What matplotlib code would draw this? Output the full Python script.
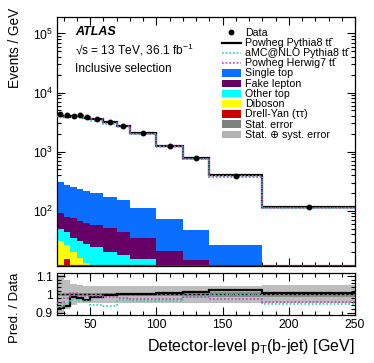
import numpy as np
import matplotlib
matplotlib.use('Agg')
import matplotlib.pyplot as plt
from matplotlib.ticker import MultipleLocator, FixedLocator, FixedFormatter, LogLocator, NullFormatter
from matplotlib.patches import Rectangle
from matplotlib.lines import Line2D

plt.rcParams['font.family'] = ['Liberation Sans', 'DejaVu Sans']
plt.rcParams['mathtext.fontset'] = 'custom'
plt.rcParams['mathtext.rm'] = 'Liberation Sans'
plt.rcParams['mathtext.it'] = 'Liberation Sans:italic'
plt.rcParams['mathtext.bf'] = 'Liberation Sans:bold'

# ---------------- data ----------------
bin_edges = [25, 30, 35, 40, 45, 50, 60, 70, 80, 100, 120, 140, 180, 250]
data = [4280, 4110, 4050, 4110, 3850, 3560, 3130, 2740, 2040, 1260, 771, 386, 116]

ratio_pythia8 = [0.924, 0.936, 0.985, 0.978, 0.969, 0.987, 0.998, 1.004, 1.002, 1.005, 1.011, 1.024, 1.005]
ratio_amcnlo = [0.930, 0.950, 0.970, 0.962, 0.962, 0.940, 0.938, 0.968, 0.964, 0.965, 0.986, 0.998, 0.946]
ratio_herwig7 = [0.955, 0.978, 1.005, 0.990, 0.990, 0.990, 0.985, 0.978, 0.973, 0.973, 0.984, 0.976, 0.960]

drell_yan = [8, 15, 6, 5, 4, 3, 3, 2, 2, 1.5, 1, 1, 0.5]
diboson = [23, 11.3, 14.2, 10.7, 8.9, 7.5, 6, 6, 5, 3.5, 3, 2, 1.5]
other_top = [17.4, 17.9, 13.9, 15, 14.4, 14.1, 11.2, 9.8, 8.1, 5, 4, 3, 2]
fake_lepton = [44.1, 34.8, 39.9, 37.1, 35.4, 32.7, 30.2, 26.4, 19, 10.8, 6.7, 3, 1]
single_top = [217.5, 193, 181, 165.2, 155.3, 144.7, 122.6, 107.8, 77.9, 50.7, 32.3, 17.3, 4]

stat_err = [0.008, 0.008, 0.007, 0.007, 0.007, 0.006, 0.006, 0.007, 0.007, 0.008, 0.010, 0.012, 0.015]
total_err = [0.105, 0.078, 0.058, 0.050, 0.048, 0.047, 0.046, 0.045, 0.045, 0.046, 0.046, 0.048, 0.050]

bkg_values = [drell_yan, diboson, other_top, fake_lepton, single_top]
bkg_colors = ['#cc0000', '#ffff00', '#00ffff', '#660066', '#0a6fff']

tt = 'tt\u0304'
legend_labels = ['Data', 'Powheg Pythia8 ' + tt, 'aMC@NLO Pythia8 ' + tt, 'Powheg Herwig7 ' + tt,
                 'Single top', 'Fake lepton', 'Other top', 'Diboson', 'Drell-Yan (ττ)',
                 'Stat. error', 'Stat. ⊕ syst. error']

# ---------------- figure ----------------
W, H = 374, 363
fig = plt.figure(figsize=(W / 100, H / 100), dpi=100)

def fx(px):
    return px / W

def fy(py):
    return 1 - py / H

ax = fig.add_axes([fx(57), fy(266), fx(355) - fx(57), fy(17) - fy(266)])
rax = fig.add_axes([fx(57), fy(315), fx(355) - fx(57), fy(273.3) - fy(315)])

edges = np.array(bin_edges, dtype=float)
centers = 0.5 * (edges[1:] + edges[:-1])
data_a = np.array(data, dtype=float)

ymin, ymax = 11.6, 1.9e5

# stacked backgrounds
base = np.zeros(len(data))
for vals, col in zip(bkg_values, bkg_colors):
    top = base + np.array(vals)
    ax.stairs(top, edges, baseline=base, fill=True, color=col, lw=0, zorder=2)
    base = top
ax.axhline(ymin * 1.01, color='#8b1a1a', lw=1.6, zorder=3)

# predictions
pred_p8 = data_a * np.array(ratio_pythia8)
pred_amc = data_a * np.array(ratio_amcnlo)
pred_h7 = data_a * np.array(ratio_herwig7)

c_amc = '#2fd39f'
c_h7 = '#c040c8'
dot = (0, (1, 1.2))
ax.stairs(pred_p8, edges, baseline=None, color='black', lw=1.6, zorder=4)
ax.stairs(pred_amc, edges, baseline=None, color=c_amc, lw=1.2, ls=dot, zorder=5)
ax.stairs(pred_h7, edges, baseline=None, color=c_h7, lw=1.2, ls=dot, zorder=6)

ax.plot(centers, data_a, 'o', color='black', ms=3.2, zorder=7)

ax.set_yscale('log')
ax.set_xlim(25, 250)
ax.set_ylim(ymin, ymax)

# ratio panel
rax.stairs(1 + np.array(total_err), edges, baseline=1 - np.array(total_err), fill=True,
           color='#bdbdbd', lw=0, zorder=1)
rax.stairs(1 + np.array(stat_err), edges, baseline=1 - np.array(stat_err), fill=True,
           color='#8c8c8c', lw=0, zorder=2)
rax.axhline(1.0, color='black', lw=0.9, ls=(0, (2, 1.5)), zorder=3)
rax.stairs(ratio_pythia8, edges, baseline=None, color='black', lw=1.6, zorder=4)
rax.stairs(ratio_amcnlo, edges, baseline=None, color=c_amc, lw=1.2, ls=dot, zorder=5)
rax.stairs(ratio_herwig7, edges, baseline=None, color=c_h7, lw=1.2, ls=dot, zorder=6)
rax.set_xlim(25, 250)
rax.set_ylim(0.887, 1.115)

# ticks
for a in (ax, rax):
    a.tick_params(which='both', direction='in', top=True, right=True, labelsize=8.8, pad=3)
    a.tick_params(which='major', length=6, width=0.8)
    a.tick_params(which='minor', length=3, width=0.8)
    a.xaxis.set_major_locator(MultipleLocator(50))
    a.xaxis.set_minor_locator(MultipleLocator(10))
    for s in a.spines.values():
        s.set_linewidth(0.9)

ax.tick_params(labelbottom=False)
ax.yaxis.set_major_locator(LogLocator(base=10, numticks=10))
ax.yaxis.set_minor_locator(LogLocator(base=10, subs=np.arange(2, 10), numticks=20))
ax.yaxis.set_minor_formatter(NullFormatter())

rax.yaxis.set_major_locator(FixedLocator([0.9, 1.0, 1.1]))
rax.yaxis.set_major_formatter(FixedFormatter(['0.9', '1', '1.1']))
rax.yaxis.set_minor_locator(MultipleLocator(0.02))

# axis labels
fig.text(fx(15), fy(8), 'Events / GeV', rotation=90, ha='center', va='top', fontsize=9.8)
fig.text(fx(15), fy(307.5), 'Pred. / Data', rotation=90, ha='center', va='center', fontsize=9.5)
fig.text(fx(355), fy(347), r'Detector-level p$_{\mathrm{T}}$(b-jet) [GeV]', ha='right', va='center', fontsize=11.5)

fig.text(fx(75), fy(35), 'ATLAS', fontsize=9.0, fontweight='bold', style='italic',
         va='baseline', ha='left')
fig.text(fx(75), fy(54), '√s = 13 TeV, 36.1 fb$^{-1}$', fontsize=8.6, va='baseline', ha='left')
fig.text(fx(75), fy(72.5), 'Inclusive selection', fontsize=8.6, va='baseline', ha='left')

# legend (drawn row by row)
row0, dy = 32.3, 10.2
hx0, hx1, tx = 221.7, 240.5, 245
kinds = ['dot', ('line', 'black', 1.6, '-'), ('line', c_amc, 1.2, dot), ('line', c_h7, 1.2, dot),
         ('patch', bkg_colors[4]), ('patch', bkg_colors[3]), ('patch', bkg_colors[2]),
         ('patch', bkg_colors[1]), ('patch', bkg_colors[0]), ('patch', '#808080'), ('patch', '#b3b3b3')]
for i, (lab, kind) in enumerate(zip(legend_labels, kinds)):
    yc = row0 + i * dy
    if kind == 'dot':
        fig.add_artist(Line2D([fx(231)], [fy(yc)], marker='o', color='black', ms=3.2, ls='none'))
    elif kind[0] == 'line':
        fig.add_artist(Line2D([fx(hx0), fx(hx1)], [fy(yc), fy(yc)], color=kind[1], lw=kind[2], ls=kind[3]))
    else:
        fig.add_artist(Rectangle((fx(hx0), fy(yc + 3.7)), fx(hx1) - fx(hx0), fy(yc - 3.7) - fy(yc + 3.7),
                                 color=kind[1], lw=0, transform=fig.transFigure))
    fig.text(fx(tx), fy(yc + 3.4), lab, fontsize=7.7, va='baseline', ha='left')

fig.savefig('out.png', dpi=100)
